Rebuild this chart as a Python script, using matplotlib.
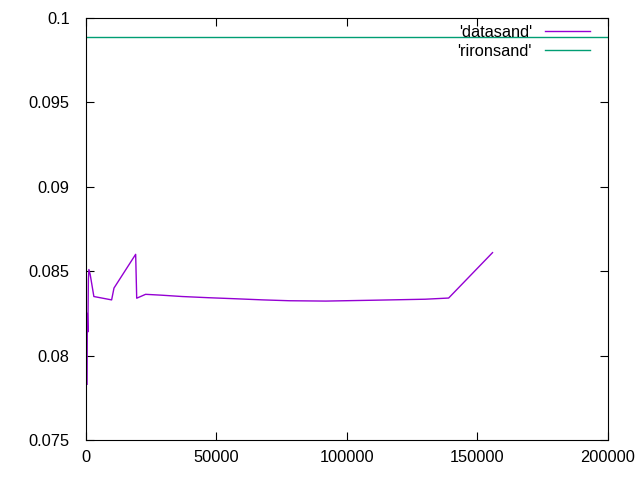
import matplotlib
matplotlib.use('Agg')
import matplotlib.pyplot as plt

plt.rcParams['font.family'] = ['Liberation Sans', 'DejaVu Sans']

# 'datasand' series
data_x = [600, 700, 900, 1100, 1300, 1800, 3200, 10000, 10900, 19200, 19600,
          23000, 29000, 37000, 47000, 57000, 68000, 78000, 92000, 110000,
          130000, 139000, 155800]
data_y = [0.0783, 0.0825, 0.0814, 0.0845, 0.0851, 0.0848, 0.0835, 0.0833,
          0.0840, 0.0860, 0.0834, 0.08363, 0.08358, 0.08350, 0.08343, 0.08337,
          0.08330, 0.08325, 0.08323, 0.08328, 0.08334, 0.08341, 0.0861]

# 'rironsand' constant
riron_y = 0.0989

x_ticks = [0, 50000, 100000, 150000, 200000]
y_ticks = [0.075, 0.08, 0.085, 0.09, 0.095, 0.1]
y_labels = ['0.075', '0.08', '0.085', '0.09', '0.095', '0.1']

fig = plt.figure(figsize=(6.4, 4.8), dpi=100)
ax = fig.add_axes([85.5 / 640, 40 / 480, 522.5 / 640, 422 / 480])

ax.plot(data_x, data_y, color='#9400d3', lw=1.0, label="'datasand'")
ax.axhline(riron_y, color='#009e73', lw=1.0, label="'rironsand'")

ax.set_xlim(0, 200000)
ax.set_ylim(0.075, 0.1)
ax.set_xticks(x_ticks)
ax.set_xticklabels([str(t) for t in x_ticks])
ax.set_yticks(y_ticks)
ax.set_yticklabels(y_labels)
ax.tick_params(direction='in', length=6, width=0.8, top=True, right=True,
               labelsize=11.8)
ax.tick_params(axis='x', pad=7)
ax.tick_params(axis='y', pad=11.5)
for s in ax.spines.values():
    s.set_linewidth(0.8)

ax.legend(loc='upper right', bbox_to_anchor=(590 / 640, 1 - 25 / 480),
          bbox_transform=fig.transFigure, frameon=False, markerfirst=False,
          fontsize=11.8, handlelength=2.75, handletextpad=0.8,
          labelspacing=0.22, borderpad=0, borderaxespad=0)

fig.savefig('out.png', dpi=100)
